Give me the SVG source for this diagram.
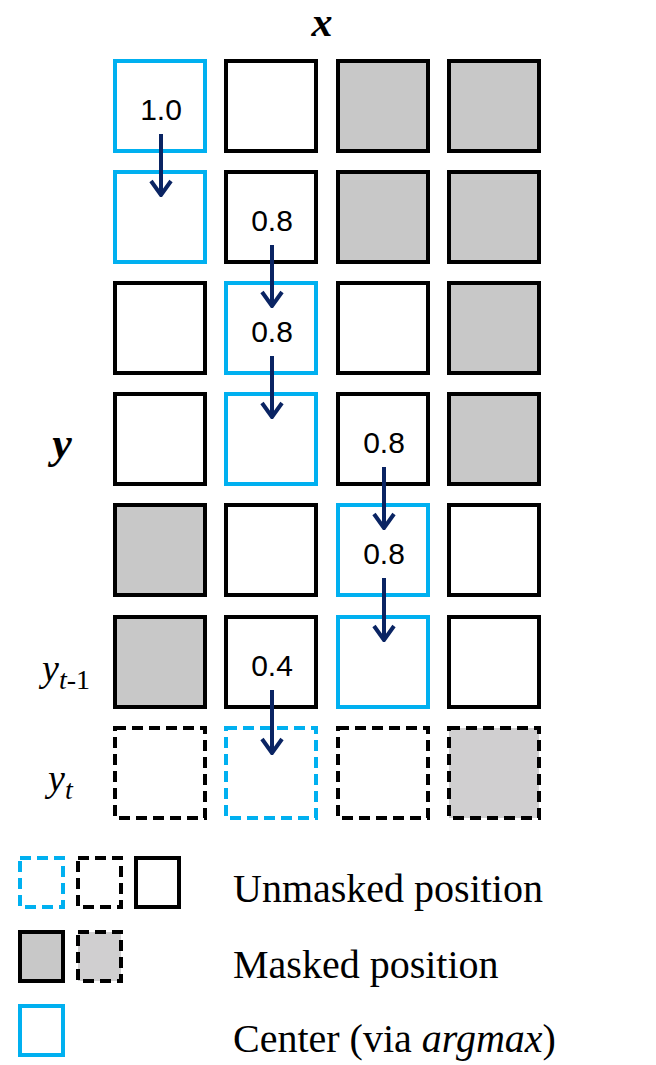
<svg xmlns="http://www.w3.org/2000/svg" width="656" height="1065" viewBox="0 0 656 1065">
<style>
.c{fill:#fff;stroke:#000;stroke-width:4}
.b{stroke:#00b0f0}
.g{fill:#c8c8c8}
.d{stroke-dasharray:11 6}
.n{font-family:"Liberation Sans",Arial,sans-serif;font-size:30px;text-anchor:middle}
.s{font-family:"Liberation Serif","Times New Roman",serif}
.a{stroke:#0a2463;stroke-width:4;fill:none}
</style>
<defs>
<marker id="hh" viewBox="0 0 24 24" refX="22" refY="12" markerWidth="24" markerHeight="24" markerUnits="userSpaceOnUse" orient="auto"><path d="M8,2 L22,12 L8,22" fill="none" stroke="#0a2463" stroke-width="4"/></marker></defs>
<text x="322" y="36" class="s" font-size="42" font-weight="bold" font-style="italic" text-anchor="middle">x</text>
<text x="62" y="458" class="s" font-size="44" font-weight="bold" font-style="italic" text-anchor="middle">y</text>
<text x="42" y="681" class="s" font-size="38" font-style="italic">y<tspan font-size="28" dy="8">t</tspan><tspan font-size="28" font-style="normal">-1</tspan></text>
<text x="48" y="791" class="s" font-size="38" font-style="italic">y<tspan font-size="28" dy="8">t</tspan></text>
<g id="r1"><rect class="c b" x="115" y="61" width="90" height="90"/><rect class="c" x="226" y="61" width="90" height="90"/><rect class="c g" x="338" y="61" width="90" height="90"/><rect class="c g" x="449" y="61" width="90" height="90"/></g>
<g id="r2"><rect class="c b" x="115" y="172" width="90" height="90"/><rect class="c" x="226" y="172" width="90" height="90"/><rect class="c g" x="338" y="172" width="90" height="90"/><rect class="c g" x="449" y="172" width="90" height="90"/></g>
<g id="r3"><rect class="c" x="115" y="283" width="90" height="90"/><rect class="c b" x="226" y="283" width="90" height="90"/><rect class="c" x="338" y="283" width="90" height="90"/><rect class="c g" x="449" y="283" width="90" height="90"/></g>
<g id="r4"><rect class="c" x="115" y="394" width="90" height="90"/><rect class="c b" x="226" y="394" width="90" height="90"/><rect class="c" x="338" y="394" width="90" height="90"/><rect class="c g" x="449" y="394" width="90" height="90"/></g>
<g id="r5"><rect class="c g" x="115" y="505" width="90" height="90"/><rect class="c" x="226" y="505" width="90" height="90"/><rect class="c b" x="338" y="505" width="90" height="90"/><rect class="c" x="449" y="505" width="90" height="90"/></g>
<g id="r6"><rect class="c g" x="115" y="617" width="90" height="90"/><rect class="c" x="226" y="617" width="90" height="90"/><rect class="c b" x="338" y="617" width="90" height="90"/><rect class="c" x="449" y="617" width="90" height="90"/></g>
<g id="r7"><rect class="c d" x="115" y="728" width="90" height="90"/><rect class="c b d" x="226" y="728" width="90" height="90"/><rect class="c d" x="338" y="728" width="90" height="90"/><rect class="c d" style="fill:#d0cfd0" x="449" y="728" width="90" height="90"/></g>
<g id="labels"><text class="n" x="161" y="120">1.0</text><text class="n" x="272" y="231">0.8</text><text class="n" x="272" y="342">0.8</text><text class="n" x="384" y="453">0.8</text><text class="n" x="384" y="564">0.8</text><text class="n" x="272" y="676">0.4</text></g>
<g id="connectors" class="a">
<line x1="161" y1="134" x2="161" y2="195" marker-end="url(#hh)"/>
<line x1="272" y1="245" x2="272" y2="306" marker-end="url(#hh)"/>
<line x1="272" y1="356" x2="272" y2="417" marker-end="url(#hh)"/>
<line x1="384" y1="467" x2="384" y2="528" marker-end="url(#hh)"/>
<line x1="384" y1="578" x2="384" y2="640" marker-end="url(#hh)"/>
<line x1="272" y1="690" x2="272" y2="753" marker-end="url(#hh)"/>
</g>
<g id="legend">
<rect class="c b d" x="20" y="858" width="43" height="49" stroke-width="3.5"/>
<rect class="c d" x="78" y="858" width="43" height="49" stroke-width="3.5"/>
<rect class="c" x="136" y="858" width="43" height="49"/>
<rect class="c g" x="20" y="932" width="43" height="49"/>
<rect class="c g d" x="78" y="932" width="43" height="49" stroke-width="3.5" style="fill:#d0cfd0"/>
<rect class="c b" x="20" y="1006" width="43" height="49"/>
<text class="s" x="233" y="902" font-size="40">Unmasked position</text>
<text class="s" x="233" y="978" font-size="40">Masked position</text>
<text class="s" x="233" y="1052" font-size="40">Center (via <tspan font-style="italic">argmax</tspan>)</text>
</g>
</svg>
